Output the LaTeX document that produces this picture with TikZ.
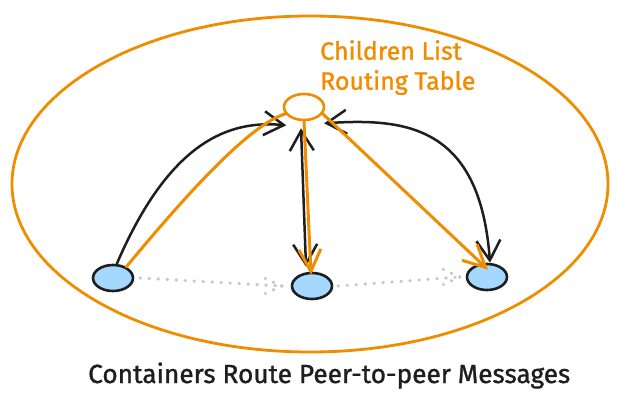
\documentclass[tikz,border=0pt]{standalone}
\usepackage{fontspec}
\setmainfont{Fira Sans}[FakeBold=1.2,BoldFont={Fira Sans}]
\usetikzlibrary{shapes.geometric,arrows.meta}
\definecolor{exorange}{HTML}{F08C00}
\definecolor{exblack}{HTML}{1E1E1E}
\definecolor{exblue}{HTML}{A5D8FF}
\definecolor{exgray}{HTML}{C4C8CC}
\tikzset{
  barb/.tip={Straight Barb[length=20pt,width=24pt,line width=2.5pt]},
  obarb/.tip={Straight Barb[length=22pt,width=22pt,line width=3pt]},
}
\begin{document}
\begin{tikzpicture}[x=1pt,y=-1pt,
  container/.style={ellipse,draw=exblack,fill=exblue,line width=2.6pt,minimum width=40pt,minimum height=26pt,inner sep=0pt},
  hub/.style={ellipse,draw=exorange,line width=2.6pt,minimum width=40pt,minimum height=26pt,inner sep=0pt},
  scopeell/.style={ellipse,draw=exorange,line width=2.8pt,minimum width=596pt,minimum height=336pt,inner sep=0pt},
  blk/.style={draw=exblack,line width=2.5pt,line cap=round},
  org/.style={draw=exorange,line width=3pt,line cap=round},
  peer/.style={draw=exgray,line width=3.6pt,dash pattern=on 0pt off 9pt,line cap=round},
]
\useasboundingbox (0,0) rectangle (642,401);
\node[scopeell] (scope) at (310,184) {};
\node[hub] (hub) at (304,107) {};
\node[container] (a) at (113,278) {};
\node[container] (b) at (312,286) {};
\node[container] (c) at (487,277) {};
\node[anchor=north west,inner sep=0pt,text=exorange,align=left,font=\bfseries\fontsize{25}{30}\selectfont] (tbl) at (320,40) {Children List\\Routing Table};
\node[anchor=base west,inner sep=0pt,text=exblack,font=\bfseries] (cap) at (88,383) {\resizebox{482pt}{!}{Containers Route Peer-to-peer Messages}};
% peer messages (dotted, with dotted heads)
\draw[peer] ([xshift=6pt]a.east) -- ([xshift=-9pt]b.west);
\draw[peer] ([xshift=-9pt]b.west) -- ++(-24,-11);
\draw[peer] ([xshift=-9pt]b.west) -- ++(-24,11);
\draw[peer] ([xshift=5pt]b.east) -- ([xshift=-6pt]c.west);
\draw[peer] ([xshift=-6pt]c.west) -- ++(-24,-11);
\draw[peer] ([xshift=-6pt]c.west) -- ++(-24,11);
% black
\draw[blk,-{barb}] (a.75) .. controls (170,140) and (230,120) .. ([shift={(-3,8)}]hub.215);
\draw[blk,{barb}-{barb}] ([shift={(-3,7)}]hub.south) -- ([shift={(-6,-5)}]b.north);
\draw[blk,{barb}-{barb}] ([shift={(4,7)}]hub.330) .. controls (405,118) and (480,125) .. ([shift={(3,0)}]c.north);
% orange
\draw[org] (a.40) .. controls (190,190) and (250,125) .. (hub.200);
\draw[org,-{obarb}] (hub.south) -- ([shift={(-1,3)}]b.north);
\draw[org,-{obarb}] (hub.-20) -- ([shift={(1,7)}]c.north);
\end{tikzpicture}
\end{document}
